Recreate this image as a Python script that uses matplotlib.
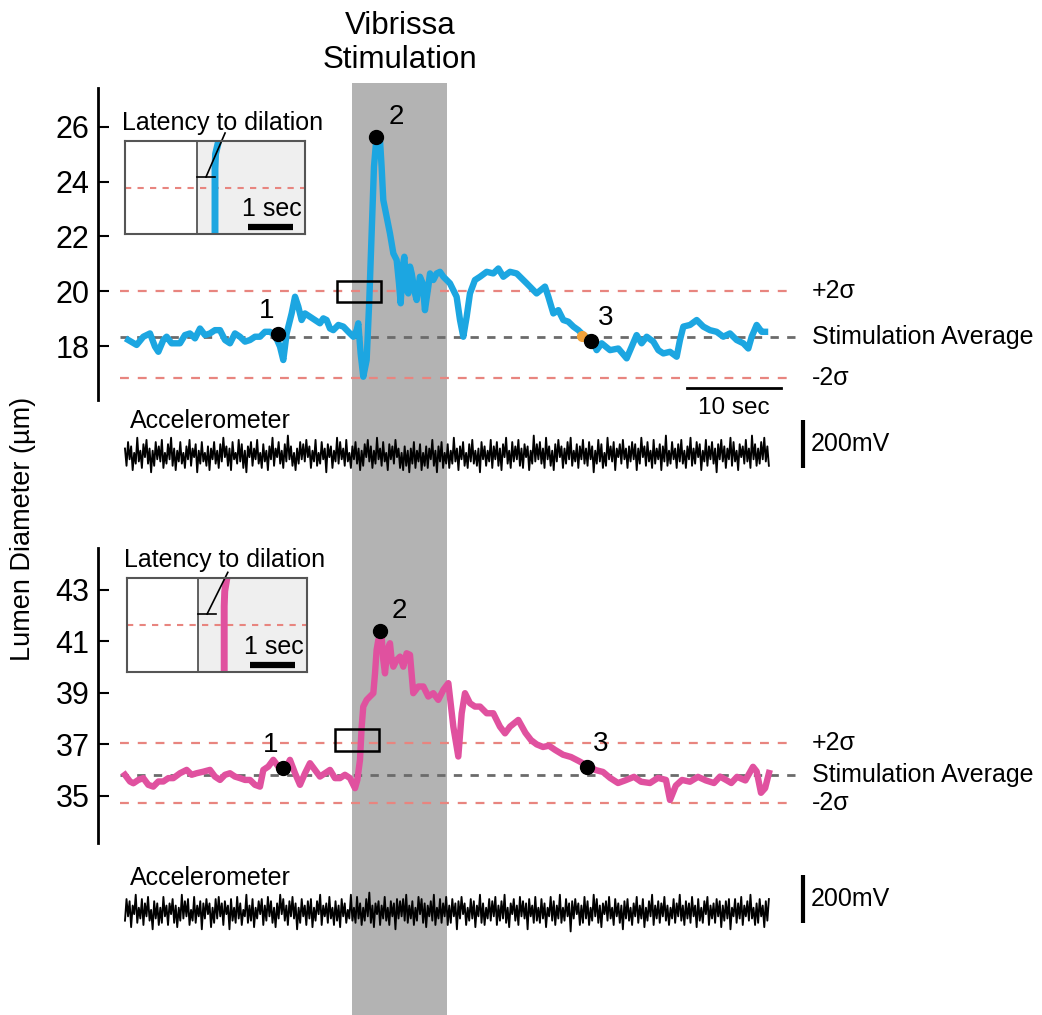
import numpy as np
import matplotlib
matplotlib.use('Agg')
import matplotlib.pyplot as plt
from matplotlib.patches import Rectangle

plt.rcParams['font.family'] = ['Liberation Sans', 'DejaVu Sans']

W, H = 1042, 1015

# ---- data (time in s, diameter in um) ----
blue_t = [0.35, 1.24, 1.95, 2.66, 3.19, 3.55, 4.08, 4.43, 4.96, 5.85, 6.38, 6.91, 7.45, 7.98,
          8.51, 9.04, 9.57, 10.11, 10.64, 11.17, 11.70, 12.23, 12.77, 13.30, 13.83, 14.36, 14.89,
          15.43, 15.96, 16.49, 16.84, 17.20, 17.73, 18.09, 18.44, 18.79, 19.15, 19.68, 20.21,
          20.74, 21.10, 21.45, 21.81, 22.16, 22.70, 23.23, 23.76, 24.29, 24.65, 24.82, 25.07,
          25.35, 25.71, 25.99, 26.24, 26.49, 26.70, 27.13, 27.30, 27.48, 27.84, 28.19, 28.55,
          28.90, 29.15, 29.33, 29.54, 29.72, 29.96, 30.14, 30.32, 30.50, 30.85, 31.03, 31.38,
          31.67, 31.91, 32.27, 32.45, 32.80, 33.16, 33.51, 33.87, 34.22, 34.57, 34.93, 35.28,
          35.64, 35.99, 36.35, 36.70, 37.23, 37.77, 38.48, 39.18, 39.72, 40.25, 40.96, 41.67,
          42.73, 43.79, 44.68, 45.04, 45.57, 46.10, 46.63, 47.16, 47.70, 48.23, 48.76, 49.65,
          50.18, 50.71, 51.60, 52.48, 53.37, 53.90, 54.43, 54.96, 55.50, 56.21, 56.74, 57.27,
          57.98, 58.69, 59.04, 59.40, 60.11, 60.82, 61.52, 62.23, 62.94, 63.65, 64.36, 65.07,
          65.78, 66.31, 66.67, 67.20, 67.73, 68.09]
blue_um = [18.22, 18.04, 18.34, 18.46, 17.98, 17.79, 18.22, 18.34, 18.10, 18.10, 18.40, 18.46,
           18.28, 18.64, 18.40, 18.46, 18.58, 18.58, 18.22, 18.10, 18.46, 18.34, 18.16, 18.22,
           18.34, 18.34, 18.52, 18.52, 18.40, 17.98, 17.49, 18.46, 19.19, 19.80, 19.44, 18.95,
           19.19, 19.07, 18.95, 18.83, 19.01, 18.95, 18.64, 18.58, 18.77, 18.71, 18.52, 18.34,
           18.58, 18.83, 17.73, 16.88, 17.49, 19.68, 22.11, 24.55, 25.40, 25.52, 24.55, 23.33,
           22.72, 22.11, 21.38, 21.14, 20.29, 19.56, 20.90, 21.26, 20.04, 19.92, 20.90, 20.65,
           19.92, 19.68, 20.53, 20.29, 19.31, 20.17, 20.65, 20.41, 20.65, 20.71, 20.53, 20.41,
           20.29, 20.04, 19.80, 18.95, 18.34, 19.07, 19.92, 20.41, 20.53, 20.71, 20.65, 20.83,
           20.53, 20.71, 20.65, 20.29, 19.92, 20.17, 19.80, 19.19, 19.31, 18.95, 18.89, 18.71,
           18.58, 18.40, 18.22, 17.85, 18.10, 17.85, 17.91, 17.55, 17.98, 18.40, 18.10, 18.34,
           18.16, 17.85, 17.73, 17.79, 17.61, 18.22, 18.71, 18.77, 18.95, 18.71, 18.58, 18.52,
           18.34, 18.46, 18.22, 18.10, 17.91, 18.34, 18.77, 18.52, 18.52]

pink_t = [0.00, 0.53, 0.89, 1.42, 1.95, 2.48, 3.01, 3.55, 4.08, 4.61, 5.14, 5.85, 6.56, 7.09,
          7.62, 8.33, 9.04, 9.57, 10.11, 10.64, 11.17, 11.70, 12.23, 12.77, 13.30, 13.83, 14.36,
          14.72, 15.25, 15.78, 16.31, 16.67, 17.20, 17.55, 18.09, 18.62, 19.15, 19.68, 20.21,
          20.74, 21.28, 21.81, 22.34, 22.87, 23.40, 23.94, 24.47, 24.72, 25.00, 25.18, 25.35,
          25.71, 26.06, 26.42, 26.60, 26.77, 26.95, 27.30, 27.48, 27.66, 27.91, 28.19, 28.37,
          28.55, 28.90, 29.26, 29.61, 29.96, 30.32, 30.67, 31.21, 31.74, 32.27, 32.80, 33.33,
          33.87, 34.40, 34.93, 35.46, 35.82, 36.17, 36.70, 37.23, 37.77, 38.48, 39.18, 39.89,
          40.43, 40.96, 41.84, 42.60, 43.19, 43.80, 44.47, 45.10, 45.74, 46.60, 47.45, 48.30,
          49.36, 50.10, 50.85, 51.60, 52.45, 53.20, 54.15, 54.90, 55.85, 56.70, 57.55, 57.98,
          58.60, 59.26, 60.10, 60.96, 61.80, 62.66, 63.30, 63.94, 64.50, 65.11, 66.00, 66.81,
          67.20, 67.66, 68.10, 68.51]
pink_um = [35.82, 35.56, 35.49, 35.62, 35.69, 35.43, 35.36, 35.56, 35.56, 35.69, 35.69, 35.88,
           36.01, 35.82, 35.88, 35.94, 36.01, 35.75, 35.62, 35.82, 35.88, 35.75, 35.69, 35.62,
           35.62, 35.43, 35.36, 36.01, 36.14, 36.40, 36.14, 36.07, 36.14, 36.40, 35.88, 35.43,
           35.88, 36.27, 36.01, 35.75, 35.88, 36.01, 35.69, 35.69, 35.82, 35.69, 35.30, 35.62,
           36.40, 37.69, 38.47, 38.73, 38.86, 38.99, 39.76, 40.67, 41.06, 41.19, 40.28, 39.76,
           40.67, 40.93, 40.28, 40.02, 40.28, 40.41, 40.02, 40.54, 40.48, 38.99, 39.25, 39.25,
           38.86, 38.99, 38.73, 39.12, 39.38, 37.69, 36.53, 38.21, 38.99, 38.60, 38.47, 38.47,
           38.21, 38.21, 37.69, 37.43, 37.69, 37.95, 37.45, 37.17, 37.00, 36.90, 36.95, 36.79,
           36.60, 36.51, 36.35, 36.13, 36.00, 35.93, 35.70, 35.50, 35.60, 35.74, 35.55, 35.50,
           35.70, 35.62, 34.84, 35.40, 35.62, 35.55, 35.74, 35.60, 35.50, 35.75, 35.62, 35.50,
           35.74, 35.60, 36.13, 35.95, 35.12, 35.30, 35.89]

# +2 sigma, stimulation average, -2 sigma
top_stats = [20.0, 18.33, 16.83]
bot_stats = [37.05, 35.82, 34.73]

# numbered events 1, 2, 3
top_ev_t = [16.3, 26.7, 49.6]
top_ev_um = [18.44, 25.63, 18.18]
bot_ev_t = [16.8, 27.1, 49.1]
bot_ev_um = [36.09, 41.41, 36.13]

# latency window (t0, t1, um0, um1)
top_win = [22.55, 27.2, 19.6, 20.36]
bot_win = [22.3, 27.0, 36.73, 37.58]

stim_on, stim_off = 24.15, 34.25
top_ticks = [18, 20, 22, 24, 26]
bot_ticks = [35, 37, 39, 41, 43]

# accelerometer, raw counts (1 count = 9 mV)
MV_PER_COUNT = 9
accel_top = [3, -5, 6, -2, 4, -7, 1, -4, 8, -3, 2, -6, 5, -1, 7, -4, 3, -8, 2, -5, 6, -2, 4, -3, 7, -6, 1, -4, 5, -2,
             8, -5, 3, -7, 2, -3, 6, -4, 1, -6, 4, -2, 7, -5, 3, -1, 5, -8, 2, -4, 6, -3, 1, -5, 4, -7, 3, -2, 6, -4,
             2, -6, 5, -3, 8, -1, 4, -5, 3, -7, 6, -2, 1, -4, 7, -3, 5, -6, 2, -8, 4, -1, 6, -5, 3, -2, 7, -4, 1, -6,
             5, -3, 2, -7, 4, -2, 8, -5, 3, -1, 6, -4, 2, -6, 5, -3, 9, -2, 4, -5, 1, -7, 3, -4, 6, -2, 5, -3, 7, -1,
             4, -6, 2, -3, 7, -5, 1, -4, 6, -2, 3, -8, 5, -1, 4, -6, 2, -3, 8, -4, 6, -2, 3, -5, 7, -3, 1, -6, 4, -2,
             6, -4, 3, -7, 2, -5, 5, -1, 7, -3, 4, -6, 2, -4, 8, -2, 3, -5, 6, -3, 1, -7, 5, -2, 4, -4, 7, -1, 3, -6,
             1, -7, 4, -5, 2, -8, 3, -4, 6, -6, 2, -3, 5, -7, 1, -5, 4, -6, 3, -2, 7, -5, 2, -8, 4, -3, 6, -6, 1, -4,
             5, -6, 2, -4, 8, -3, 3, -7, 4, -2, 6, -5, 1, -6, 5, -3, 7, -4, 2, -5, 3, -8, 6, -2, 4, -5, 2, -3, 7, -6,
             4, -2, 6, -5, 3, -7, 5, -1, 8, -4, 2, -6, 6, -3, 4, -2, 7, -5, 3, -6, 5, -1, 4, -7, 2, -4, 9, -3, 5, -2,
             6, -4, 3, -6, 8, -2, 4, -5, 2, -7, 5, -3, 7, -1, 4, -6, 3, -4, 6, -2, 8, -5, 2, -3, 5, -6, 4, -2, 7, -4,
             3, -5, 6, -2, 4, -8, 2, -4, 7, -3, 5, -6, 1, -5, 8, -2, 4, -3, 6, -7, 3, -1, 5, -4, 7, -2, 3, -6, 4, -3,
             6, -2, 5, -7, 3, -4, 8, -1, 4, -5, 6, -3, 2, -6, 7, -4, 3, -2, 5, -7, 4, -3, 9, -5, 2, -4, 6, -2, 3, -6,
             5, -3, 7, -4, 2, -6, 4, -2, 8, -5, 3, -4, 6, -1, 5, -7, 2, -3, 7, -5, 4, -2, 6, -4, 3, -8, 5, -2, 7, -3,
             4, -6, 3, -2, 8, -5, 6, -3, 2, -7, 5, -1, 4, -4, 7, -3, 3, -6, 9, -2, 5, -5, 3, -4, 6, -2, 8, -3, 4, -5]
accel_bot = [-4, 6, -2, 5, -7, 3, -1, 8, -5, 2, -3, 6, -6, 4, -2, 7, -4, 1, -8, 5, -3, 4, -6, 2, -5, 7, -2, 3, -6, 4,
             -1, 6, -5, 3, -7, 2, -4, 8, -3, 5, -2, 6, -6, 1, -4, 7, -5, 3, -2, 5, -8, 4, -3, 6, -1, 4, -7, 2, -5, 6,
             -3, 7, -2, 4, -6, 5, -1, 3, -8, 6, -4, 2, -5, 7, -3, 4, -6, 1, -2, 8, -5, 3, -4, 6, -7, 2, -3, 5, -1, 6,
             -6, 3, -4, 7, -2, 5, -5, 2, -7, 4, -3, 8, -1, 6, -4, 3, -6, 5, -2, 7, -3, 4, -8, 2, -5, 6, -2, 3, -6, 5,
             -3, 6, -7, 2, -4, 5, -1, 8, -6, 3, -2, 4, -5, 7, -3, 2, -6, 5, -4, 3, -7, 6, -2, 4, -5, 1, -3, 8, -4, 2,
             -5, 7, -3, 4, -6, 2, -4, 6, -2, 9, -5, 3, -7, 4, -1, 5, -6, 3, -3, 7, -4, 2, -6, 5, -2, 4, -8, 6, -3, 5,
             -2, 6, -4, 8, -5, 3, -3, 5, -6, 2, -4, 7, -1, 6, -5, 4, -7, 3, -2, 5, -4, 8, -6, 2, -3, 6, -5, 4, -2, 7,
             -6, 3, -5, 6, -2, 4, -8, 5, -3, 7, -1, 4, -6, 2, -4, 6, -3, 5, -7, 3, -2, 8, -5, 4, -6, 2, -3, 6, -4, 5,
             -2, 7, -6, 3, -4, 5, -3, 8, -5, 2, -7, 4, -1, 6, -4, 3, -6, 7, -2, 5, -3, 4, -8, 6, -2, 3, -5, 7, -4, 2,
             -5, 6, -3, 4, -7, 2, -2, 7, -4, 5, -6, 3, -3, 8, -5, 2, -4, 6, -2, 4, -9, 5, -3, 6, -1, 4, -6, 3, -5, 7,
             -3, 5, -6, 2, -4, 8, -2, 6, -5, 3, -7, 4, -1, 5, -4, 7, -3, 2, -6, 6, -2, 4, -5, 3, -8, 5, -3, 6, -4, 2,
             -6, 4, -2, 7, -5, 3, -3, 6, -7, 2, -4, 5, -2, 8, -6, 3, -3, 5, -5, 4, -2, 7, -4, 3, -6, 2, -3, 6, -5, 4,
             -2, 8, -4, 3, -6, 5, -3, 4, -5, 7, -2, 3, -7, 6, -4, 2, -5, 5, -1, 7, -6, 3, -3, 4, -5, 6, -2, 5, -7, 3,
             -4, 5, -3, 6, -8, 2, -2, 6, -5, 4, -3, 7, -6, 3, -2, 5, -4, 8, -3, 2, -6, 4, -5, 6, -2, 3, -7, 5, -4, 6]

BLUE = '#1ca6e1'
PINK = '#e0519f'
RED_DASH = '#e8857f'
GRAY_DASH = '#6b6b6b'
BAND = '#b3b3b3'

XLIM = (-2.87, 71.81)


def px_axes(fig, x0, y0, x1, y1, **kw):
    return fig.add_axes([x0 / W, 1 - y1 / H, (x1 - x0) / W, (y1 - y0) / H], **kw)


def trace_panel(fig, y0, y1, ylim, ticks, t, um, color, stats, ev_t, ev_um, win):
    ax = px_axes(fig, 98, y0, 800, y1)
    ax.patch.set_alpha(0)
    ax.set_xlim(XLIM)
    ax.set_ylim(ylim)
    for s in ['top', 'right', 'bottom']:
        ax.spines[s].set_visible(False)
    ax.spines['left'].set_linewidth(2)
    ax.set_xticks([])
    ax.set_yticks(ticks)
    ax.tick_params(axis='y', direction='in', length=8, width=1.5, labelsize=22, pad=6)

    ax.hlines([stats[0], stats[2]], -0.5, 71.3, colors=RED_DASH, linestyles=(0, (4, 4)), lw=1.6)
    ax.hlines(stats[1], -0.5, 71.3, colors=GRAY_DASH, linestyles=(0, (3, 3)), lw=2.0, zorder=3)
    ax.plot(t, um, color=color, lw=4.6, solid_joinstyle='round', zorder=4)

    ax.add_patch(Rectangle((win[0], win[2]), win[1] - win[0], win[3] - win[2],
                           fill=False, ec='black', lw=1.8, zorder=5))

    ax.plot(ev_t, ev_um, 'o', color='black', ms=10, zorder=6)
    offsets = [(-12, 23), (20, 20), (14, 23)]
    for i, (et, eu) in enumerate(zip(ev_t, ev_um)):
        ax.annotate(str(i + 1), (et, eu), xytext=offsets[i], textcoords='offset pixels',
                    fontsize=20, ha='center', va='center', annotation_clip=False)

    labels = ['+2σ', 'Stimulation Average', '-2σ']
    for lab, val in zip(labels, stats):
        ax.text(73.1, val, lab, fontsize=18, ha='left', va='center', clip_on=False)
    return ax


def inset(fig, x0, y0, y1, ix, iv, color, div, dash_y, br_y, diag_end):
    ax = px_axes(fig, x0, y0, x0 + 180, y1)
    ax.set_xlim(0, 1)
    ax.set_ylim(0, 1)
    ax.set_xticks([])
    ax.set_yticks([])
    for s in ax.spines.values():
        s.set_color('#555555')
        s.set_linewidth(1.5)
    ax.add_patch(Rectangle((div, 0), 1 - div, 1, color='#efefef', lw=0))
    ax.axvline(div, color='#555555', lw=1.3)
    ax.axhline(dash_y, color=RED_DASH, ls=(0, (3, 3)), lw=1.5)
    ax.plot(ix, iv, color=color, lw=5, clip_on=False, solid_capstyle='butt')
    ax.plot([div, div + 0.1], [br_y, br_y], color='black', lw=1.2)
    ax.plot([div + 0.05, diag_end[0]], [br_y, diag_end[1]], color='black', lw=1.2, clip_on=False)
    ax.text(0.815, 0.27, '1 sec', fontsize=18, ha='center', va='center')
    ax.plot([0.685, 0.933], [0.07, 0.07], color='black', lw=4.5, solid_capstyle='butt')
    ax.text(-0.015, 1.19, 'Latency to dilation', fontsize=18, ha='left', va='center',
            transform=ax.transAxes, clip_on=False)
    return ax


def accel_panel(fig, y0, y1, ylim, counts, bar, lab_y):
    ax = px_axes(fig, 98, y0, 800, y1)
    ax.patch.set_alpha(0)
    ax.axis('off')
    ax.set_xlim(XLIM)
    ax.set_ylim(ylim)
    mv = np.array(counts) * MV_PER_COUNT
    ts = np.linspace(0, 68.5, len(mv))
    ax.plot(ts, mv, color='black', lw=1.35)
    ax.plot([72.1, 72.1], bar, color='black', lw=3, clip_on=False, solid_capstyle='butt')
    ax.text(72.95, (bar[0] + bar[1]) / 2, '200mV', fontsize=18, ha='left', va='center', clip_on=False)
    ax.text(0.5, lab_y, 'Accelerometer', fontsize=18, ha='left', va='center', clip_on=False)
    return ax


fig = plt.figure(figsize=(W / 100, H / 100), dpi=100)

# stimulation band behind everything
bg = px_axes(fig, 98, 83, 800, 1015)
bg.axis('off')
bg.set_xlim(XLIM)
bg.axvspan(stim_on, stim_off, color=BAND, lw=0)

ax1 = trace_panel(fig, 88, 400, (16.03, 27.42), top_ticks, blue_t, blue_um, BLUE,
                  top_stats, top_ev_t, top_ev_um, top_win)
ax1.plot([48.6], [18.36], 'o', color='#f2a23a', ms=7, zorder=5)
# 10 sec scale bar
ax1.plot([59.8, 69.8], [16.47, 16.47], color='black', lw=2, clip_on=False)
ax1.text(64.8, 15.72, '10 sec', fontsize=17.5, ha='center', va='center', clip_on=False)

ax2 = trace_panel(fig, 548, 843, (33.17, 44.63), bot_ticks, pink_t, pink_um, PINK,
                  bot_stats, bot_ev_t, bot_ev_um, bot_win)

inset(fig, 125, 141, 234, [0.5, 0.5, 0.503, 0.52], [0.0, 0.7, 0.86, 1.0], BLUE,
      0.4, 0.495, 0.613, (0.556, 1.086))
inset(fig, 127, 578, 672, [0.54, 0.54, 0.543, 0.555], [0.0, 0.7, 0.86, 1.0], PINK,
      0.395, 0.5, 0.617, (0.56, 1.06))

accel_panel(fig, 420, 490, (-146, 146), accel_top, (146, -54), 142)
accel_panel(fig, 865, 960, (-200, 196), accel_bot, (154, -46), 142)

fig.text(400 / W, 1 - 43 / H, 'Vibrissa\nStimulation', fontsize=22.5, ha='center', va='center',
         linespacing=1.15)
fig.text(23 / W, 1 - 529 / H, 'Lumen Diameter (µm)', fontsize=19.5, rotation=90,
         ha='center', va='center')

fig.savefig('out.png', dpi=100, facecolor='white')
